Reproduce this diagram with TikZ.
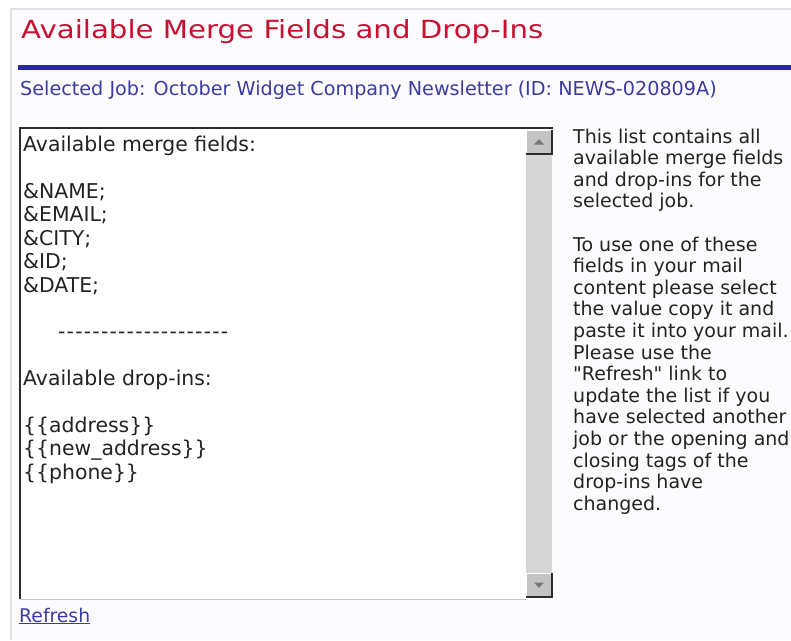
\documentclass[tikz,border=0pt]{standalone}
\usepackage{fontspec}
\newfontfamily\uifont{DejaVu Sans}
\newfontfamily\titlefont[FakeStretch=1.17]{DejaVu Sans}

\definecolor{pagebg}{RGB}{252,251,254}
\definecolor{framegray}{RGB}{226,226,229}
\definecolor{titlered}{RGB}{200,16,50}
\definecolor{ruleblue}{RGB}{42,42,158}
\definecolor{linkblue}{RGB}{60,60,160}
\definecolor{bodyblack}{RGB}{35,35,35}
\definecolor{boxdark}{RGB}{45,45,45}
\definecolor{trackgray}{RGB}{214,214,214}
\definecolor{btngray}{RGB}{196,196,198}
\definecolor{arrowgray}{RGB}{120,120,120}

% a row of plain hyphens
\newcommand{\dashrow}{\foreach \k in {1,...,20}{-\kern1.2pt}}

\tikzset{
  titletext/.style={anchor=base west, inner sep=0pt, text=titlered, font=\titlefont\fontsize{25}{30}\selectfont},
  jobtext/.style={anchor=base west, inner sep=0pt, text=linkblue, font=\uifont\fontsize{19.2}{23}\selectfont},
  listtext/.style={anchor=north west, inner sep=0pt, align=left, text=bodyblack, font=\uifont\fontsize{20.4}{23.4}\selectfont},
  helptext/.style={anchor=north west, inner sep=0pt, align=left, text=bodyblack, font=\uifont\fontsize{19}{21.6}\selectfont},
  scrollbtn/.style={draw=white, fill=btngray, minimum width=26pt, minimum height=24pt, inner sep=0pt},
}

\begin{document}
\begin{tikzpicture}[x=1pt,y=-1pt]
    \useasboundingbox (0,0) rectangle (791,640);
    \fill[white] (0,0) rectangle (791,640);
    \fill[pagebg] (11,9) rectangle (791,640);
    \draw[framegray, line width=1.5pt] (11,640) -- (11,9) -- (791,9);

    % heading
    \node[titletext] (title) at (21,38) {Available Merge Fields and Drop-Ins};
    \draw[ruleblue, line width=4.5pt] (18,67.5) -- (791,67.5);
    \node[jobtext] (job) at (20,95) {Selected Job: October Widget Company Newsletter (ID: NEWS-020809A)};

    % list box
    \fill[white] (19,128) rectangle (553,599);
    \fill[trackgray] (526,130) rectangle (552,598);
    \draw[gray!45] (20,599) -- (526,599);
    \draw[boxdark, line width=2pt] (20,599) -- (20,128) -- (553,128);

    \node[scrollbtn] (up) at (539,142) {};
    \draw[boxdark, line width=1.5pt] (up.north east) -- (up.south east) -- (up.south west);
    \fill[arrowgray, shift={(up.center)}] (-5,2.5) -- (5,2.5) -- (0,-3) -- cycle;

    \node[scrollbtn] (down) at (539,585) {};
    \draw[boxdark, line width=1.5pt] (down.north east) -- (down.south east) -- (down.south west);
    \fill[arrowgray, shift={(down.center)}] (-5,-2.5) -- (5,-2.5) -- (0,3) -- cycle;

    \node[listtext] (fields) at (23,136) {Available merge fields:\\[23.4pt]
      \&NAME;\\ \&EMAIL;\\ \&CITY;\\ \&ID;\\ \&DATE;\\[23.4pt]
      \hspace*{35pt}\dashrow\\[23.4pt]
      Available drop-ins:\\[23.4pt]
      \{\{address\}\}\\ \{\{new\_address\}\}\\ \{\{phone\}\}};

    % explanation beside the box
    \node[helptext] (help) at (573,128.5) {This list contains all\\ available merge fields\\
      and drop-ins for the\\ selected job.\\[21.6pt]
      To use one of these\\ fields in your mail\\ content please select\\
      the value copy it and\\ paste it into your mail.\\ Please use the\\
      "Refresh" link to\\ update the list if you\\ have selected another\\
      job or the opening and\\ closing tags of the\\ drop-ins have\\ changed.};

    \node[jobtext, font=\uifont\fontsize{18.8}{22}\selectfont] (refresh) at (19,622) {\underline{Refresh}};
\end{tikzpicture}
\end{document}
